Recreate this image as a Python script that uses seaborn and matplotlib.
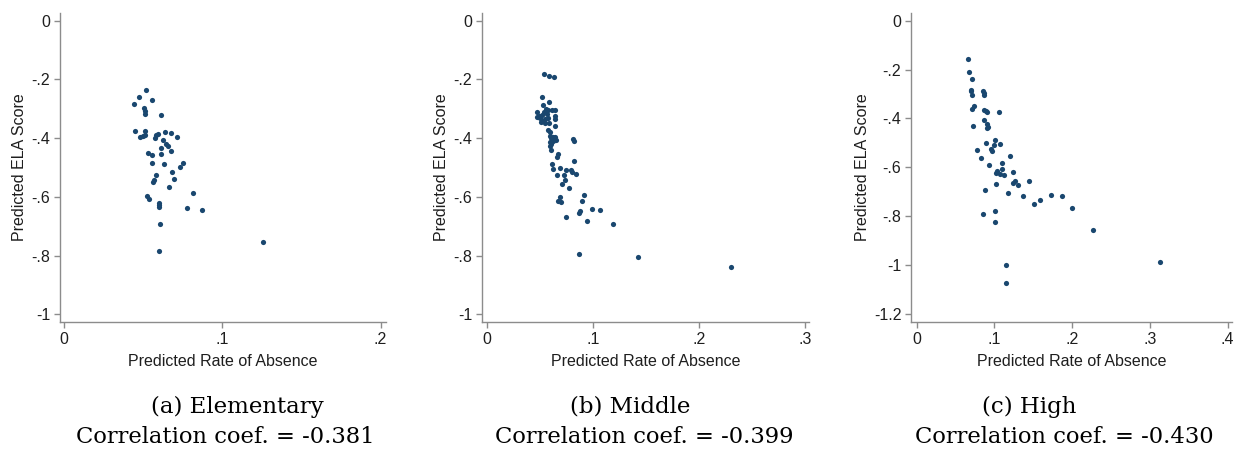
import matplotlib
matplotlib.use("Agg")
import matplotlib.pyplot as plt
import seaborn as sns
import pandas as pd

sns.set_style("white")
plt.rcParams['font.family'] = ['Liberation Sans', 'DejaVu Sans']

# ---------------- data ----------------
elem_x = [0.0517, 0.0475, 0.0557, 0.0443, 0.0508, 0.0515, 0.0515, 0.0610,
          0.0447, 0.0513, 0.0483, 0.0500, 0.0515, 0.0574, 0.0584, 0.0595,
          0.0637, 0.0673, 0.0713, 0.0624, 0.0643, 0.0656, 0.0614, 0.0675,
          0.0532, 0.0553, 0.0612, 0.0559, 0.0631, 0.0751, 0.0732, 0.0684,
          0.0582, 0.0570, 0.0563, 0.0696, 0.0665, 0.0812, 0.0523, 0.0538,
          0.0601, 0.0601, 0.0602, 0.0776, 0.0871, 0.0605, 0.0603, 0.1257]
elem_y = [-0.235, -0.261, -0.269, -0.285, -0.297, -0.309, -0.319, -0.322,
          -0.376, -0.375, -0.396, -0.393, -0.388, -0.400, -0.391, -0.386,
          -0.378, -0.382, -0.397, -0.408, -0.419, -0.428, -0.432, -0.445,
          -0.449, -0.457, -0.453, -0.486, -0.489, -0.485, -0.498, -0.515,
          -0.524, -0.541, -0.548, -0.539, -0.567, -0.588, -0.596, -0.606,
          -0.622, -0.628, -0.634, -0.637, -0.645, -0.692, -0.784, -0.752]

mid_x = [0.0541, 0.0582, 0.0630, 0.0519, 0.0582, 0.0529, 0.0475, 0.0470,
         0.0495, 0.0520, 0.0540, 0.0555, 0.0560, 0.0580, 0.0610, 0.0640,
         0.0640, 0.0640, 0.0520, 0.0550, 0.0585, 0.0640, 0.0576, 0.0598,
         0.0590, 0.0605, 0.0625, 0.0645, 0.0655, 0.0627, 0.0592, 0.0592,
         0.0608, 0.0812, 0.0818, 0.0670, 0.0660, 0.0825, 0.0617, 0.0623,
         0.0686, 0.0749, 0.0790, 0.0806, 0.0840, 0.0658, 0.0727, 0.0737,
         0.0711, 0.0771, 0.0916, 0.0689, 0.0670, 0.0700, 0.0894, 0.0995,
         0.1067, 0.0875, 0.0866, 0.0947, 0.0743, 0.1190, 0.0866, 0.1426,
         0.2301, 0.0500, 0.0565, 0.0600, 0.0505, 0.0545, 0.0575]
mid_y = [-0.180, -0.189, -0.192, -0.259, -0.278, -0.288, -0.312, -0.327,
         -0.323, -0.320, -0.311, -0.304, -0.301, -0.303, -0.305, -0.303,
         -0.326, -0.335, -0.342, -0.336, -0.349, -0.358, -0.371, -0.378,
         -0.393, -0.399, -0.395, -0.397, -0.408, -0.411, -0.412, -0.427,
         -0.439, -0.402, -0.409, -0.453, -0.464, -0.478, -0.487, -0.506,
         -0.503, -0.510, -0.510, -0.515, -0.522, -0.527, -0.526, -0.543,
         -0.555, -0.569, -0.593, -0.602, -0.615, -0.619, -0.615, -0.641,
         -0.645, -0.648, -0.656, -0.682, -0.670, -0.691, -0.795, -0.806,
         -0.839, -0.333, -0.318, -0.420, -0.345, -0.350, -0.330]

high_x = [0.0665, 0.0678, 0.0708, 0.0700, 0.0700, 0.0708, 0.0708, 0.0742,
          0.0730, 0.0858, 0.0867, 0.0871, 0.0863, 0.0888, 0.0900, 0.1064,
          0.0871, 0.0910, 0.0914, 0.0900, 0.0888, 0.1013, 0.1069, 0.0996,
          0.0953, 0.0966, 0.0773, 0.0833, 0.0936, 0.1206, 0.1094, 0.1103,
          0.1073, 0.1017, 0.1039, 0.1129, 0.1240, 0.1240, 0.1262, 0.1309,
          0.1442, 0.1021, 0.1172, 0.1365, 0.1506, 0.1588, 0.1725, 0.1867,
          0.2000, 0.2270, 0.0880, 0.0858, 0.1009, 0.1009, 0.1155, 0.1155,
          0.3124]
high_y = [-0.155, -0.209, -0.237, -0.282, -0.287, -0.306, -0.361, -0.350,
          -0.431, -0.289, -0.297, -0.306, -0.367, -0.371, -0.372, -0.372,
          -0.405, -0.424, -0.435, -0.440, -0.501, -0.488, -0.506, -0.509,
          -0.525, -0.532, -0.531, -0.561, -0.592, -0.555, -0.584, -0.606,
          -0.629, -0.622, -0.617, -0.633, -0.621, -0.663, -0.655, -0.673,
          -0.657, -0.668, -0.707, -0.717, -0.750, -0.733, -0.714, -0.718,
          -0.765, -0.858, -0.691, -0.791, -0.778, -0.822, -1.000, -1.072,
          -0.986]

x_ticks = [[0, 0.1, 0.2], [0, 0.1, 0.2, 0.3], [0, 0.1, 0.2, 0.3, 0.4]]
x_labels = [["0", ".1", ".2"], ["0", ".1", ".2", ".3"], ["0", ".1", ".2", ".3", ".4"]]
y_ticks = [[0, -0.2, -0.4, -0.6, -0.8, -1.0],
           [0, -0.2, -0.4, -0.6, -0.8, -1.0],
           [0, -0.2, -0.4, -0.6, -0.8, -1.0, -1.2]]
y_labels = [["0", "-.2", "-.4", "-.6", "-.8", "-1"],
            ["0", "-.2", "-.4", "-.6", "-.8", "-1"],
            ["0", "-.2", "-.4", "-.6", "-.8", "-1", "-1.2"]]
captions = ["(a) Elementary", "(b) Middle", "(c) High"]
corr_text = ["Correlation coef. = -0.381", "Correlation coef. = -0.399",
             "Correlation coef. = -0.430"]

series = [(elem_x, elem_y), (mid_x, mid_y), (high_x, high_y)]

# ---------------- layout ----------------
W, H = 1238, 450
fig = plt.figure(figsize=(W / 100, H / 100), dpi=100)

# pixel boxes: left, right, top, bottom
boxes = [(60, 386, 13, 322), (482, 809, 13, 322), (911, 1232, 13, 322)]
xlims = [(-0.0025, 0.2034), (-0.0047, 0.3038), (-0.0073, 0.4056)]
ylims = [(-1.026, 0.026), (-1.026, 0.026), (-1.233, 0.0316)]
cap1_x = [237, 630, 1029]
cap2_x = [225, 644, 1064]

spine_col = "#8c8c8c"
pt_col = "#1a476f"

for i, (xs, ys) in enumerate(series):
    l, r, t, b = boxes[i]
    ax = fig.add_axes([l / W, 1 - b / H, (r - l) / W, (b - t) / H])
    df = pd.DataFrame({"x": xs, "y": ys})
    sns.scatterplot(data=df, x="x", y="y", ax=ax, color=pt_col, s=14,
                    linewidth=0, legend=False)
    ax.set_xlim(*xlims[i])
    ax.set_ylim(*ylims[i])
    ax.set_xticks(x_ticks[i])
    ax.set_xticklabels(x_labels[i])
    ax.set_yticks(y_ticks[i])
    ax.set_yticklabels(y_labels[i])
    for s in ["top", "right"]:
        ax.spines[s].set_visible(False)
    for s in ["left", "bottom"]:
        ax.spines[s].set_color(spine_col)
        ax.spines[s].set_linewidth(1.0)
    ax.tick_params(axis="both", direction="out", length=4, width=1,
                   color=spine_col, labelsize=11.5, labelcolor="#1e1e1e",
                   bottom=True, left=True, pad=3)
    ax.set_xlabel("Predicted Rate of Absence", fontsize=11.5, color="#1e1e1e",
                  labelpad=5)
    ax.set_ylabel("Predicted ELA Score", fontsize=11.5, color="#1e1e1e",
                  labelpad=3)
    ax.grid(False)

    fig.text(cap1_x[i] / W, 1 - 407 / H, captions[i], ha="center",
             va="center", fontsize=16.5, family=["DejaVu Serif"], color="black")
    fig.text(cap2_x[i] / W, 1 - 437 / H, corr_text[i], ha="center",
             va="center", fontsize=16.3, family=["DejaVu Serif"], color="black")

fig.savefig("out.png", dpi=100, facecolor="white")
